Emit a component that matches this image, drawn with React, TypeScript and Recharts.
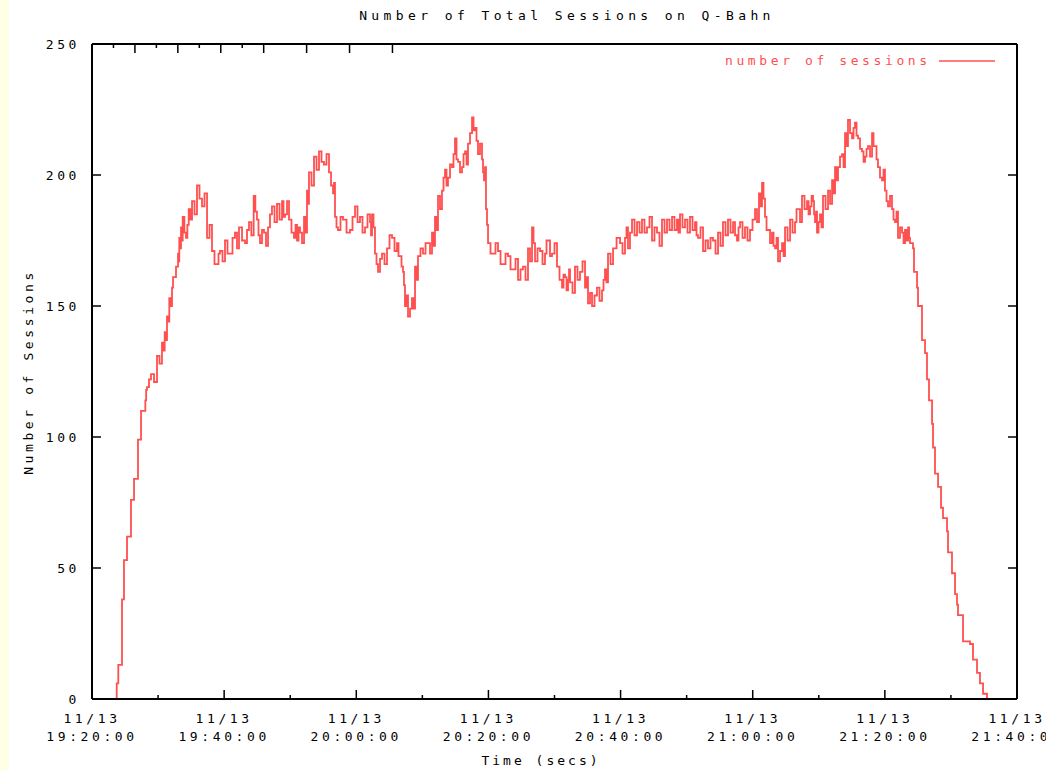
import React from "react";
import { Legend, Line, LineChart, XAxis, YAxis } from "recharts";

// session counts sampled from the Q-Bahn log; time is minutes after 19:20:00
const minutes = [
  3.48, 3.74, 3.98, 4.54, 4.84, 5.3, 5.9, 6.36, 6.96, 7.42, 8.07, 8.32, 8.93, 9.84,
  10.59, 11.0, 11.35, 11.7, 12.11, 12.41, 13.02, 13.21, 13.47, 13.73, 14.23, 14.64,
  15.14, 15.89, 16.65, 17.41, 18.16, 18.92, 19.37, 20.13, 20.89, 21.64, 22.25, 23.16,
  23.76, 24.47, 24.97, 25.43, 26.03, 26.64, 27.24, 28.0, 28.76, 29.21, 29.82, 30.57,
  31.03, 31.48, 32.09, 32.54, 32.84, 33.6, 34.36, 35.11, 35.87, 36.48, 36.78, 37.23,
  37.99, 39.05, 39.81, 40.56, 41.32, 42.08, 42.38, 42.83, 43.29, 43.89, 44.65, 45.41,
  46.16, 46.62, 47.07, 47.37, 47.83, 48.43, 48.89, 49.34, 50.1, 50.86, 51.46, 51.91,
  52.37, 52.97, 53.43, 53.88, 54.49, 54.94, 55.4, 56.0, 56.46, 56.91, 57.52, 57.97,
  58.42, 59.03, 59.33, 59.63, 59.94, 60.69, 61.45, 62.21, 62.96, 63.72, 64.48, 65.23,
  65.99, 66.6, 67.05, 67.81, 68.56, 69.02, 69.62, 70.38, 71.14, 71.59, 72.05, 72.35,
  73.1, 73.86, 74.62, 75.07, 75.68, 76.43, 77.19, 77.64, 78.1, 78.86, 79.92, 80.67,
  81.12, 81.73, 82.49, 83.24, 84.0, 84.76, 85.51, 86.27, 87.03, 87.79, 88.54, 89.0,
  89.75, 90.51, 91.27, 91.72, 92.48, 93.23, 93.99, 94.75, 95.5, 96.26, 97.02, 97.62,
  98.08, 98.83, 99.59, 100.35, 100.95, 101.41, 101.86, 102.32, 102.92, 103.38, 103.83,
  104.44, 104.89, 105.65, 106.4, 106.86, 107.46, 108.22, 108.68, 109.13, 109.43,
  109.73, 110.19, 110.64, 111.4, 112.01, 112.46, 112.91, 113.52, 113.97, 114.42,
  115.03, 115.48, 115.94, 116.54, 117.0, 117.45, 118.06, 118.51, 118.96, 119.57,
  120.02, 120.48, 121.08, 121.54, 121.99, 122.6, 123.05, 123.51, 123.81, 124.26,
  124.41, 124.87, 125.02, 125.62, 126.08, 126.38, 126.68, 127.14, 127.29, 127.59,
  128.05, 128.5, 128.8, 129.41, 129.56, 130.16, 130.62, 130.92, 131.07, 131.83,
  132.89, 133.34, 133.95, 134.4, 134.86, 135.46,
];

const sessions = [
  0, 6, 13, 38, 53, 62, 76, 84, 99, 110, 114, 119, 124, 131,
  136, 140, 146, 153, 157, 161, 170, 176, 180, 184, 176, 187,
  190, 196, 188, 176, 171, 166, 171, 175, 170, 178, 180, 174,
  182, 192, 183, 174, 178, 180, 188, 189, 190, 185, 183, 176,
  175, 178, 184, 194, 201, 207, 209, 204, 201, 193, 184, 179,
  183, 179, 188, 184, 180, 182, 185, 170, 163, 170, 172, 176,
  174, 169, 163, 150, 146, 153, 165, 169, 170, 174, 178, 184,
  192, 194, 202, 199, 203, 214, 205, 203, 209, 212, 222, 218,
  208, 206, 198, 187, 174, 170, 171, 166, 169, 164, 160, 165,
  172, 180, 167, 171, 170, 175, 170, 165, 157, 161, 160, 159,
  165, 163, 157, 151, 150, 157, 156, 164, 170, 172, 174, 176,
  172, 183, 182, 183, 180, 175, 178, 183, 183, 184, 183, 185,
  183, 184, 182, 176, 171, 172, 175, 178, 182, 183, 182, 175,
  182, 180, 179, 187, 193, 197, 184, 179, 178, 172, 167,
  174, 180, 183, 182, 187, 192, 190, 188, 190, 182,
  178, 185, 192, 194, 198, 203, 203, 208, 216, 221,
  214, 220, 214, 209, 207, 211, 216, 211, 203, 198,
  194, 188, 187, 182, 176, 178, 179, 180, 174, 172,
  163, 157, 150, 137, 132, 122, 114, 105, 96, 86,
  81, 73, 69, 64, 56, 48, 40, 36, 32, 22,
  21, 15, 10, 6, 2, 0,
];

// short-lived count reached between one sample and the next (the flicker band)
const flicker = [
  0, 6, 13, 38, 53, 62, 76, 84, 99, 110, 118, 122, 121, 128,
  133, 137, 144, 150, 161, 165, 167, 172, 175, 178, 181, 183,
  185, 191, 193, 181, 166, 170, 167, 170, 176, 172, 175, 179,
  177, 186, 177, 179, 173, 185, 182, 183, 184, 190, 178, 181,
  180, 174, 178, 189, 196, 202, 205, 208, 196, 197, 180, 184,
  178, 184, 182, 178, 185, 177, 180, 166, 168, 166, 177, 171,
  169, 165, 158, 154, 149, 149, 160, 172, 174, 170, 173, 179,
  187, 199, 196, 204, 208, 206, 201, 208, 204, 216, 217, 213,
  212, 201, 203, 181, 170, 174, 166, 170, 164, 168, 164, 160,
  167, 174, 172, 166, 175, 169, 174, 160, 162, 156, 164, 155,
  160, 167, 161, 155, 154, 152, 160, 159, 166, 176, 170, 180,
  178, 177, 178, 178, 184, 180, 173, 178, 179, 179, 178, 180,
  178, 179, 177, 180, 175, 176, 170, 173, 177, 178, 177, 180,
  176, 175, 183, 182, 188, 191, 179, 174, 173, 176, 171,
  169, 175, 178, 187, 182, 187, 185, 192, 185, 186,
  182, 180, 187, 189, 193, 198, 207, 203, 211, 216,
  218, 215, 210, 205, 210, 207, 211, 206, 199, 202,
  190, 192, 183, 186, 180, 174, 175, 176, 174, 172,
  163, 157, 150, 137, 132, 122, 114, 105, 96, 86,
  81, 73, 69, 64, 56, 48, 40, 36, 32, 22,
  21, 15, 10, 6, 2, 0,
];

const xTicks = [0, 10, 20, 30, 40, 50, 60, 70, 80, 90, 100, 110, 120, 130, 140];
const xTickDates = ["11/13", "11/13", "11/13", "11/13", "11/13", "11/13", "11/13", "11/13"];
const xTickTimes = [
  "19:20:00", "19:40:00", "20:00:00", "20:20:00",
  "20:40:00", "21:00:00", "21:20:00", "21:40:00",
];
const yTicks = [0, 50, 100, 150, 200, 250];

const data = minutes.flatMap((m, i) => {
  const rows = [{ t: m, n: sessions[i] }];
  const next = minutes[i + 1];
  if (next !== undefined && flicker[i] !== sessions[i]) {
    rows.push({ t: (m + next) / 2, n: flicker[i] });
  }
  return rows;
});

const FONT = "'DejaVu Sans Mono', monospace";
const RED = "#ff5050";
const txt = { fontFamily: FONT, fontSize: 13, letterSpacing: 3.6, fill: "#000" };
const txtHtml: React.CSSProperties = { fontFamily: FONT, fontSize: 13, letterSpacing: 3.6, color: "#000" };

function BottomTick(props: any) {
  const { x, y, payload } = props;
  const major = payload.value % 20 === 0;
  const k = payload.value / 20;
  return (
    <g>
      <line x1={x} y1={y} x2={x} y2={y - (major ? 9 : 4)} stroke="#000" strokeWidth={1.5} />
      {major ? (
        <text x={x} y={y} textAnchor="middle" style={txt}>
          <tspan x={x} dy={24}>{xTickDates[k]}</tspan>
          <tspan x={x} dy={18}>{xTickTimes[k]}</tspan>
        </text>
      ) : null}
    </g>
  );
}

function TopTick(props: any) {
  const { x, y, payload } = props;
  const major = payload.value % 20 === 0;
  return <line x1={x} y1={y} x2={x} y2={y + (major ? 9 : 4)} stroke="#000" strokeWidth={1.5} />;
}

function LeftTick(props: any) {
  const { x, y, payload } = props;
  return (
    <g>
      <line x1={x} y1={y} x2={x + 9} y2={y} stroke="#000" strokeWidth={1.5} />
      <text x={x - 12} y={y + 5} textAnchor="end" style={txt}>{payload.value}</text>
    </g>
  );
}

function RightTick(props: any) {
  const { x, y } = props;
  return <line x1={x} y1={y} x2={x - 9} y2={y} stroke="#000" strokeWidth={1.5} />;
}

function KeyBox() {
  return (
    <div style={{ display: "flex", alignItems: "center", fontFamily: FONT, fontSize: 13, letterSpacing: 3.6, color: RED }}>
      <span>number of sessions</span>
      <svg width={60} height={10} style={{ marginLeft: 8 }}>
        <line x1={0} y1={5} x2={56} y2={5} stroke={RED} strokeWidth={1.5} />
      </svg>
    </div>
  );
}

export default function App() {
  return (
    <div style={{ position: "absolute", left: 0, top: 0, width: 1046, height: 770, background: "#fff" }}>
      <div style={{ position: "absolute", left: 0, top: 0, width: 9, height: 770, background: "#ffffe6" }} />
      <div style={{ position: "absolute", left: 0, top: 8, width: 1134, textAlign: "center", ...txtHtml, letterSpacing: 4.4 }}>
        Number of Total Sessions on Q-Bahn
      </div>
      <div style={{ position: "absolute", left: 0, top: 753, width: 1082, textAlign: "center", ...txtHtml, letterSpacing: 3 }}>
        Time (secs)
      </div>
      <div
        style={{
          position: "absolute",
          left: 28,
          top: 372,
          transform: "translate(-50%, -50%) rotate(-90deg)",
          whiteSpace: "nowrap",
          ...txtHtml,
        }}
      >
        Number of Sessions
      </div>
      <LineChart width={1046} height={770} data={data} margin={{ top: 43, right: 28, bottom: 21, left: 32 }}>
        <XAxis
          dataKey="t"
          type="number"
          domain={[0, 140]}
          ticks={xTicks}
          height={50}
          tickSize={0}
          tickMargin={0}
          tick={<BottomTick />}
          axisLine={{ stroke: "#000", strokeWidth: 2 }}
          allowDataOverflow
        />
        <XAxis
          xAxisId="top"
          orientation="top"
          type="number"
          domain={[0, 140]}
          ticks={xTicks}
          height={1}
          tickSize={0}
          tickMargin={0}
          tick={<TopTick />}
          axisLine={{ stroke: "#000", strokeWidth: 2 }}
          allowDataOverflow
        />
        <YAxis
          type="number"
          domain={[0, 250]}
          ticks={yTicks}
          width={60}
          tickSize={0}
          tickMargin={0}
          tick={<LeftTick />}
          axisLine={{ stroke: "#000", strokeWidth: 2 }}
        />
        <YAxis
          yAxisId="right"
          orientation="right"
          type="number"
          domain={[0, 250]}
          ticks={yTicks}
          width={1}
          tickSize={0}
          tickMargin={0}
          tick={<RightTick />}
          axisLine={{ stroke: "#000", strokeWidth: 2 }}
          allowDataOverflow
        />
        <Legend
          layout="horizontal"
          verticalAlign="middle"
          content={<KeyBox />}
          wrapperStyle={{ position: "absolute", top: 53, left: 725, width: 290 }}
        />
        <Line
          type="stepAfter"
          dataKey="n"
          stroke={RED}
          strokeWidth={1.8}
          dot={false}
          isAnimationActive={false}
        />
      </LineChart>
    </div>
  );
}
